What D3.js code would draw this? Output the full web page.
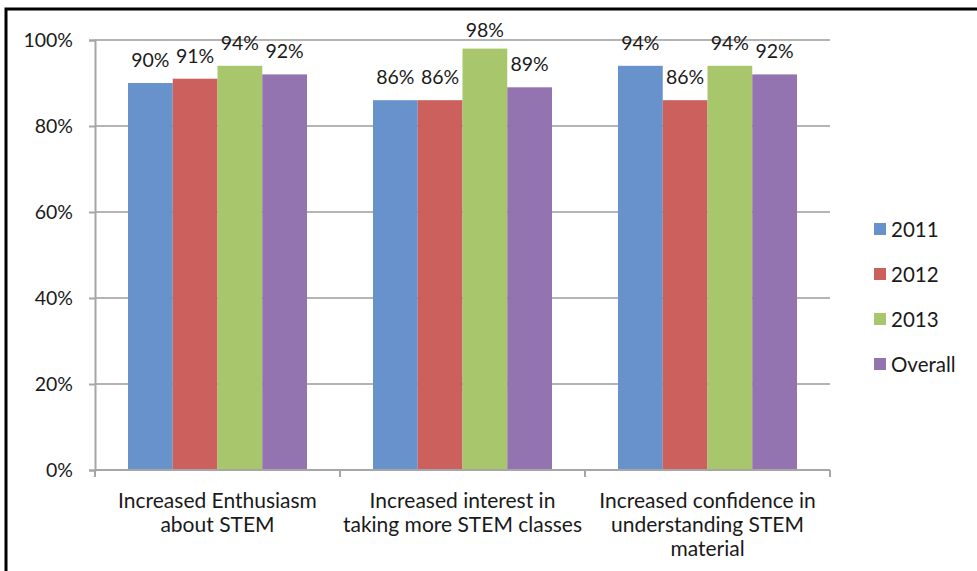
<!DOCTYPE html>
<html>
<head>
<meta charset="utf-8">
<script src="https://cdn.jsdelivr.net/npm/d3@7"></script>
<style>
  html, body { margin: 0; padding: 0; background: #fff; }
  svg text { font-family: Lato, "Open Sans", sans-serif; fill: #1a1a1a; }
</style>
</head>
<body>
<svg id="chart" width="977" height="571"></svg>
<script>
// Survey outcomes by year
const categories = [
  ["Increased Enthusiasm", "about STEM"],
  ["Increased interest in", "taking more STEM classes"],
  ["Increased confidence in", "understanding STEM", "material"]
];
const seriesNames = ["2011", "2012", "2013", "Overall"];
const seriesColors = ["#6792CB", "#CB605C", "#A8C66C", "#9373B0"];
const values2011 = [90, 86, 94];
const values2012 = [91, 86, 86];
const values2013 = [94, 98, 94];
const valuesOverall = [92, 89, 92];
const yTicks = [0, 20, 40, 60, 80, 100];

const seriesValues = [values2011, values2012, values2013, valuesOverall];
const FONT = 'Lato, "Open Sans", sans-serif';

const svg = d3.select("#chart");
const plot = { left: 95, right: 830, top: 40, bottom: 470 };

// outer frame
svg.append("rect")
  .attr("x", 6).attr("y", 9)
  .attr("width", 1000).attr("height", 600)
  .attr("fill", "none").attr("stroke", "#000").attr("stroke-width", 3);

const x0 = d3.scaleBand()
  .domain(d3.range(categories.length))
  .range([plot.left, plot.right])
  .paddingInner(0).paddingOuter(0);

const groupPad = 33;
const x1 = d3.scaleBand()
  .domain(d3.range(seriesNames.length))
  .range([groupPad, x0.bandwidth() - groupPad])
  .padding(0);

const y = d3.scaleLinear().domain([0, 100]).range([plot.bottom, plot.top]);

// gridlines
svg.append("g").selectAll("line")
  .data(yTicks.filter(t => t > 0))
  .join("line")
  .attr("x1", plot.left).attr("x2", plot.right)
  .attr("y1", d => y(d)).attr("y2", d => y(d))
  .attr("stroke", "#b4b4b4").attr("stroke-width", 2);

// y axis
const yAxis = d3.axisLeft(y).tickValues(yTicks).tickFormat(d => d + "%").tickSize(6).tickPadding(16);
const gy = svg.append("g").attr("transform", `translate(${plot.left},0)`).call(yAxis);
gy.select(".domain").attr("stroke", "#a6a6a6").attr("stroke-width", 2);
gy.selectAll(".tick line").attr("stroke", "#a6a6a6").attr("stroke-width", 2);
gy.selectAll(".tick text").attr("font-size", 19.5).attr("fill", "#1a1a1a")
  .style("font-family", FONT);

// bars
const groups = svg.append("g").selectAll("g")
  .data(categories.map((c, i) => i))
  .join("g")
  .attr("transform", i => `translate(${x0(i)},0)`);

groups.selectAll("rect")
  .data(i => seriesValues.map((vals, s) => ({ s, v: vals[i] })))
  .join("rect")
  .attr("x", d => x1(d.s))
  .attr("width", x1.bandwidth())
  .attr("y", d => y(d.v))
  .attr("height", d => y(0) - y(d.v))
  .attr("fill", d => seriesColors[d.s]);

groups.selectAll("text.val")
  .data(i => seriesValues.map((vals, s) => ({ s, v: vals[i] })))
  .join("text")
  .attr("class", "val")
  .attr("x", d => x1(d.s) + x1.bandwidth() / 2)
  .attr("y", d => Math.max(y(d.v) - 16, 37))
  .attr("text-anchor", "middle")
  .attr("font-size", 19.5)
  .text(d => d.v + "%");

// x axis line and category separators
svg.append("line")
  .attr("x1", plot.left).attr("x2", plot.right)
  .attr("y1", plot.bottom).attr("y2", plot.bottom)
  .attr("stroke", "#a6a6a6").attr("stroke-width", 2);
svg.append("g").selectAll("line")
  .data(d3.range(categories.length + 1))
  .join("line")
  .attr("x1", i => plot.left + i * x0.bandwidth())
  .attr("x2", i => plot.left + i * x0.bandwidth())
  .attr("y1", plot.bottom).attr("y2", plot.bottom + 7)
  .attr("stroke", "#a6a6a6").attr("stroke-width", 2);

// category labels
svg.append("g").selectAll("text")
  .data(categories)
  .join("text")
  .attr("x", (d, i) => x0(i) + x0.bandwidth() / 2)
  .attr("y", 508)
  .attr("text-anchor", "middle")
  .attr("font-size", 21)
  .selectAll("tspan")
  .data(d => d)
  .join("tspan")
  .attr("x", function () { return d3.select(this.parentNode).attr("x"); })
  .attr("dy", (d, j) => j === 0 ? 0 : 24)
  .text(d => d);

// legend
const legend = svg.append("g").selectAll("g")
  .data(seriesNames)
  .join("g")
  .attr("transform", (d, i) => `translate(874,${230 + i * 45})`);
legend.append("rect")
  .attr("x", 0).attr("y", -7).attr("width", 12).attr("height", 12)
  .attr("fill", (d, i) => seriesColors[i]);
legend.append("text")
  .attr("x", 17).attr("y", 7)
  .attr("font-size", 20.5)
  .text(d => d);
</script>
</body>
</html>
